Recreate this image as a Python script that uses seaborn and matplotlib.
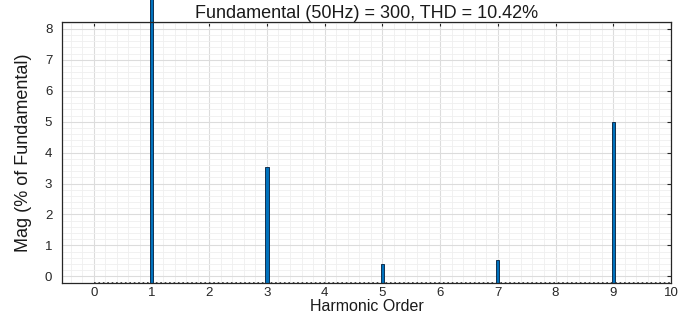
import numpy as np
import pandas as pd
import matplotlib
matplotlib.use("Agg")
import matplotlib.pyplot as plt
import seaborn as sns
from matplotlib.ticker import MultipleLocator

# harmonic spectrum (% of fundamental)
harmonic_order = [1, 3, 5, 7, 9]
magnitude = [100.0, 3.55, 0.41, 0.52, 4.98]
x_ticks = list(range(0, 11))
y_ticks = list(range(0, 9))
title_text = "Fundamental (50Hz) = 300, THD = 10.42%"

df = pd.DataFrame({"Harmonic Order": harmonic_order, "Mag": magnitude})

sns.set_theme(style="white")
plt.rcParams['font.family'] = ['Liberation Sans', 'DejaVu Sans']

fig = plt.figure(figsize=(6.85, 3.16), dpi=100)
ax = fig.add_axes([0.0905, 0.104, 0.889, 0.826])

sns.barplot(data=df, x="Harmonic Order", y="Mag", native_scale=True,
            width=0.028, color="#0072BD", saturation=1,
            edgecolor="#12304f", linewidth=0.7, ax=ax, zorder=3)

ylo, yhi = -0.22, 8.22
ax.set_xlim(-0.55, 9.97)
ax.set_ylim(ylo, yhi)

# bars start at the axis floor, like the original
for p in ax.patches:
    top = p.get_y() + p.get_height()
    p.set_y(ylo)
    p.set_height(top - ylo)
    p.set_clip_on(False)

# tiny spectrum bins along the floor
ax.hlines(ylo + 0.02, 0, 10, colors="#333333", linestyles=":", linewidth=1.2, zorder=2)

ax.set_xticks(x_ticks)
ax.set_yticks(y_ticks)
ax.xaxis.set_minor_locator(MultipleLocator(0.2))
ax.yaxis.set_minor_locator(MultipleLocator(0.2))
ax.grid(True, which="major", color="#dcdcdc", linewidth=0.8, zorder=0)
ax.grid(True, which="minor", color="#efefef", linewidth=0.6, zorder=0)
ax.set_axisbelow(True)

ax.tick_params(which="major", direction="in", length=3, width=0.8,
               top=True, right=True, labelsize=9.5, colors="#262626", pad=3)
ax.tick_params(axis="y", pad=7)
ax.tick_params(which="minor", length=0)
for s in ax.spines.values():
    s.set_color("#262626")
    s.set_linewidth(0.9)
    s.set_zorder(4)

ax.set_xlabel("Harmonic Order", fontsize=11.5, color="#1a1a1a", labelpad=0)
ax.set_ylabel("Mag (% of Fundamental)", fontsize=13, color="#1a1a1a", labelpad=9)
ax.set_title(title_text, fontsize=13, color="#1a1a1a", pad=3)

fig.savefig("out.png", dpi=100)
